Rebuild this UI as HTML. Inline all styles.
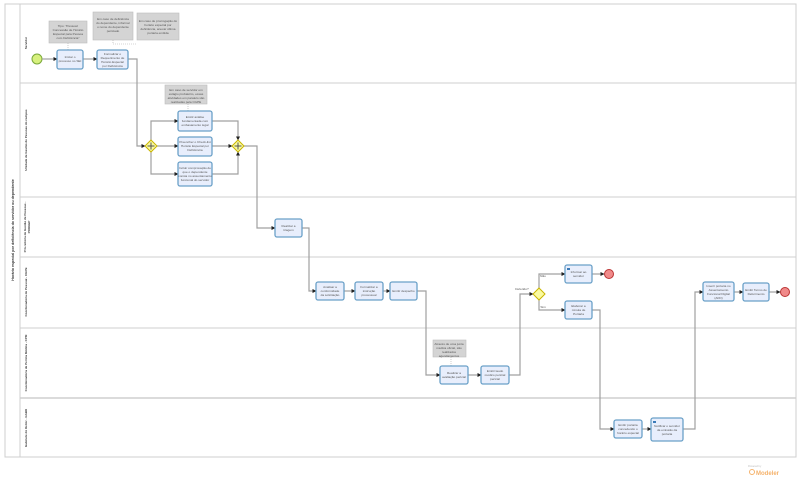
<!DOCTYPE html>
<html><head><meta charset="utf-8"><style>
html,body{margin:0;padding:0;background:#fff;}
svg{display:block;font-family:"Liberation Sans",sans-serif;}
.t{fill:#e8eefc;stroke:#6aa0c8;stroke-width:1.3;}
.n{fill:#d4d4d4;stroke:#bdbdbd;stroke-width:.6;}
.tx{font-size:3.1px;fill:#555;text-anchor:middle;}
.ln{fill:none;stroke:#a0a0a0;stroke-width:1.2;}
.lb{font-size:3.6px;fill:#333;font-weight:bold;text-anchor:middle;}
.dot{fill:none;stroke:#aaa;stroke-width:.6;stroke-dasharray:1,1;}
</style></head><body>
<svg width="800" height="501" viewBox="0 0 800 501" xmlns="http://www.w3.org/2000/svg">
<defs><marker id="a" markerUnits="userSpaceOnUse" markerWidth="4" markerHeight="4" refX="3.5" refY="2" orient="auto"><path d="M0,0L4,2L0,4z" fill="#222"/></marker></defs>
<rect x="5" y="4" width="791" height="453" fill="#fff" stroke="#cfcfcf" stroke-width="1"/>
<line x1="20" y1="4" x2="20" y2="457" stroke="#cfcfcf"/>
<g stroke="#cfcfcf" stroke-width="1">
<line x1="20" y1="83" x2="796" y2="83"/><line x1="20" y1="197" x2="796" y2="197"/>
<line x1="20" y1="257" x2="796" y2="257"/><line x1="20" y1="328" x2="796" y2="328"/>
<line x1="20" y1="398" x2="796" y2="398" stroke-width="1.5"/>
</g>
<text class="lb" transform="translate(14,230) rotate(-90)">Horário especial por deficiência do servidor ou dependente</text>
<g class="lb" style="font-size:3px">
<text transform="translate(27,43) rotate(-90)">Servidor</text>
<text transform="translate(27,140) rotate(-90)">Unidade de Gestão de Pessoas do campus</text>
<text transform="translate(26,227) rotate(-90)">Pró-reitoria de Gestão de Pessoas -</text>
<text transform="translate(30,227) rotate(-90)">PROGEP</text>
<text transform="translate(27,292) rotate(-90)">Coordenadoria de Pessoal - CGPE</text>
<text transform="translate(27,363) rotate(-90)">Coordenadoria de Perícia Médica - CPM</text>
<text transform="translate(27,428) rotate(-90)">Gabinete do Reitor - GABR</text>
</g>
<rect class="n" x="49" y="21" width="38" height="22"/>
<text class="tx"><tspan x="68" y="27">Tipo: "Pessoal:</tspan><tspan x="68" y="31">Concessão de Horário</tspan><tspan x="68" y="35">Especial para Pessoa</tspan><tspan x="68" y="39">com Deficiência"</tspan></text>
<rect class="n" x="93" y="12" width="40" height="28"/>
<text class="tx"><tspan x="113" y="20">Em caso de deficiência</tspan><tspan x="113" y="24">do dependente, informar</tspan><tspan x="113" y="28">o nome do dependente</tspan><tspan x="113" y="32">periciado</tspan></text>
<rect class="n" x="137" y="13" width="42" height="27"/>
<text class="tx"><tspan x="158" y="22">Em caso de prorrogação do</tspan><tspan x="158" y="26">horário especial por</tspan><tspan x="158" y="30">deficiência, anexar última</tspan><tspan x="158" y="34">portaria emitida</tspan></text>
<path class="dot" d="M68,43V50M113,40V44H137"/>
<rect class="n" x="165" y="85" width="42" height="19"/>
<text class="tx"><tspan x="186" y="91">Em caso de servidor em</tspan><tspan x="186" y="95">estágio probatório, essas</tspan><tspan x="186" y="99">atividades em paralelo são</tspan><tspan x="186" y="103">realizadas pela CGPE</tspan></text>
<path class="dot" d="M188,104V111"/>
<rect class="n" x="433" y="340" width="33" height="17"/>
<text class="tx"><tspan x="449" y="345">Através de uma junta</tspan><tspan x="449" y="349">médica oficial, são</tspan><tspan x="449" y="353">realizados</tspan><tspan x="449" y="357">agendamentos</tspan></text>
<path class="dot" d="M451,357V366"/>
<circle cx="37" cy="59" r="5" fill="#d7f07e" stroke="#7aa83a" stroke-width="1"/>
<circle cx="609" cy="274" r="4.5" fill="#f08a8a" stroke="#b33" stroke-width="1"/>
<circle cx="785" cy="292" r="4.5" fill="#f08a8a" stroke="#b33" stroke-width="1"/>
<g class="ln" marker-end="url(#a)">
<path d="M42,59H57"/><path d="M83,59H97"/>
<path d="M128,59H137V146H145"/>
<path d="M151,140V121H178"/><path d="M157,146H178"/><path d="M151,152V174H178"/>
<path d="M212,121H238V140"/><path d="M212,146H232"/><path d="M212,174H238V152"/>
<path d="M244,146H257V228H275"/>
<path d="M302,228H309V291H316"/><path d="M344,291H355"/><path d="M383,291H390"/>
<path d="M417,291H426V375H440"/><path d="M468,375H481"/>
<path d="M509,375H520V294H533"/>
<path d="M539,288V274H565"/><path d="M539,300V310H565"/>
<path d="M592,274H604"/>
<path d="M592,310H600V429H614"/><path d="M642,429H651"/>
<path d="M683,429H695V292H703"/><path d="M734,292H743"/><path d="M769,292H780"/>
</g>
<g stroke="#c8b400" stroke-width="1" fill="#fafaa0">
<path d="M151,140L157,146L151,152L145,146Z"/>
<path d="M238,140L244,146L238,152L232,146Z"/>
<path d="M539,288L545,294L539,300L533,294Z"/>
</g>
<path d="M151,142.5V149.5M147.5,146H154.5M238,142.5V149.5M234.5,146H241.5" stroke="#555" stroke-width="1"/>
<text class="tx" x="522" y="290">Deferido?</text>
<text class="tx" x="543" y="277">Não</text>
<text class="tx" x="543" y="308">Sim</text>
<g>
<rect class="t" x="57" y="50" width="26" height="19" rx="2"/>
<text class="tx"><tspan x="70" y="58">Iniciar o</tspan><tspan x="70" y="62">processo no SEI</tspan></text>
<rect class="t" x="97" y="50" width="31" height="19" rx="2"/>
<text class="tx"><tspan x="112.5" y="55">Formalizar o</tspan><tspan x="112.5" y="59">Requerimento de</tspan><tspan x="112.5" y="63">Horário Especial</tspan><tspan x="112.5" y="67">por Deficiência</tspan></text>
<rect class="t" x="178" y="111" width="34" height="20" rx="2"/>
<text class="tx"><tspan x="195" y="118">Emitir análise</tspan><tspan x="195" y="122">fundamentada com</tspan><tspan x="195" y="126">embasamento legal</tspan></text>
<rect class="t" x="178" y="137" width="34" height="19" rx="2"/>
<text class="tx"><tspan x="195" y="143">Preencher o Check-list</tspan><tspan x="195" y="147">Horário Especial por</tspan><tspan x="195" y="151">Deficiência</tspan></text>
<rect class="t" x="178" y="162" width="34" height="24" rx="2"/>
<text class="tx"><tspan x="195" y="169">Incluir comprovação de</tspan><tspan x="195" y="173">que o dependente</tspan><tspan x="195" y="177">consta no assentamento</tspan><tspan x="195" y="181">funcional do servidor</tspan></text>
<rect class="t" x="275" y="219" width="27" height="18" rx="2"/>
<text class="tx"><tspan x="288.5" y="227">Realizar a</tspan><tspan x="288.5" y="231">triagem</tspan></text>
<rect class="t" x="316" y="282" width="28" height="18" rx="2"/>
<text class="tx"><tspan x="330" y="288">Analisar a</tspan><tspan x="330" y="292">conformidade</tspan><tspan x="330" y="296">da solicitação</tspan></text>
<rect class="t" x="355" y="282" width="28" height="18" rx="2"/>
<text class="tx"><tspan x="369" y="288">Formalizar a</tspan><tspan x="369" y="292">instrução</tspan><tspan x="369" y="296">processual</tspan></text>
<rect class="t" x="390" y="282" width="27" height="18" rx="2"/>
<text class="tx"><tspan x="403.5" y="292">Emitir despacho</tspan></text>
<rect class="t" x="440" y="366" width="28" height="18" rx="2"/>
<text class="tx"><tspan x="454" y="374">Realizar a</tspan><tspan x="454" y="378">avaliação pericial</tspan></text>
<rect class="t" x="481" y="366" width="28" height="18" rx="2"/>
<text class="tx"><tspan x="495" y="372">Emitir laudo</tspan><tspan x="495" y="376">médico pericial</tspan><tspan x="495" y="380">pericial</tspan></text>
<rect class="t" x="565" y="265" width="27" height="18" rx="2"/>
<text class="tx"><tspan x="578.5" y="273">Informar ao</tspan><tspan x="578.5" y="277">servidor</tspan></text>
<rect class="t" x="565" y="301" width="27" height="18" rx="2"/>
<text class="tx"><tspan x="578.5" y="307">Elaborar a</tspan><tspan x="578.5" y="311">minuta de</tspan><tspan x="578.5" y="315">Portaria</tspan></text>
<rect class="t" x="614" y="420" width="28" height="18" rx="2"/>
<text class="tx"><tspan x="628" y="426">Emitir portaria</tspan><tspan x="628" y="430">concedendo o</tspan><tspan x="628" y="434">horário especial</tspan></text>
<rect class="t" x="651" y="418" width="32" height="23" rx="2"/>
<text class="tx"><tspan x="667" y="427">Notificar o servidor</tspan><tspan x="667" y="431">da emissão da</tspan><tspan x="667" y="435">portaria</tspan></text>
<rect class="t" x="703" y="282" width="31" height="19" rx="2"/>
<text class="tx"><tspan x="718.5" y="287">Inserir portaria no</tspan><tspan x="718.5" y="291">Assentamento</tspan><tspan x="718.5" y="295">Funcional Digital</tspan><tspan x="718.5" y="299">(AFD)</tspan></text>
<rect class="t" x="743" y="283" width="26" height="18" rx="2"/>
<text class="tx"><tspan x="756" y="291">Emitir Termo de</tspan><tspan x="756" y="295">Deferimento</tspan></text>
</g>
<path d="M567,268h3v2h-3z M653,421h3v2h-3z" fill="#3a7ab8"/>
<text x="748" y="467" font-size="2.5" fill="#bbb">Powered by</text>
<circle cx="752" cy="472" r="2.5" fill="none" stroke="#f5b26b" stroke-width="1"/>
<text x="756" y="475" font-size="6" fill="#f5b26b" font-weight="bold">Modeler</text>
</svg>
</body></html>
